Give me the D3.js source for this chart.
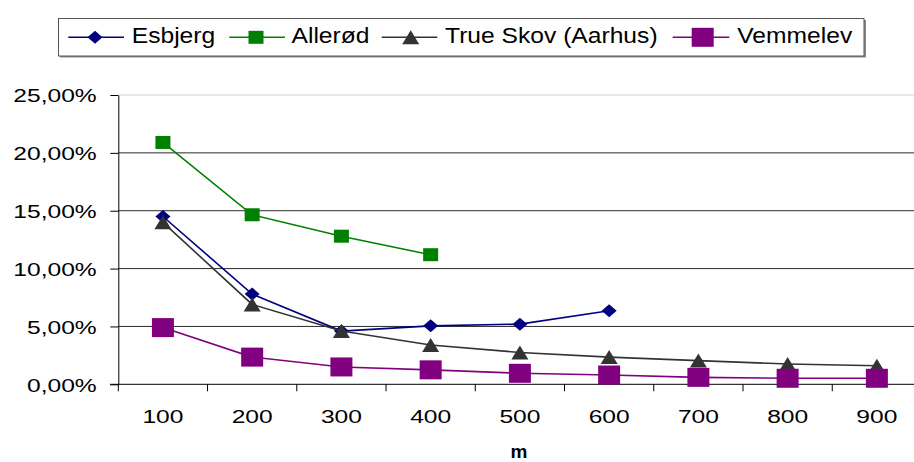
<!DOCTYPE html>
<html>
<head>
<meta charset="utf-8">
<script src="https://cdn.jsdelivr.net/npm/d3@7/dist/d3.min.js"></script>
<style>
  html, body { margin: 0; padding: 0; background: #fff; }
  svg { display: block; font-family: "Liberation Sans", Arial, sans-serif; }
</style>
</head>
<body>
<svg id="chart" width="914" height="462"></svg>
<script>
// Distance classes (m)
const categories = ["100", "200", "300", "400", "500", "600", "700", "800", "900"];
// Share per distance class, in percent
const esbjerg   = [14.5, 7.8, 4.6, 5.05, 5.2, 6.35];
const allerod   = [20.9, 14.65, 12.8, 11.2];
const trueSkov  = [14.0, 6.9, 4.6, 3.4, 2.75, 2.35, 2.05, 1.75, 1.6];
const vemmelev  = [4.9, 2.35, 1.5, 1.25, 0.95, 0.8, 0.6, 0.52, 0.52];
const seriesNames = ["Esbjerg", "Allerød", "True Skov (Aarhus)", "Vemmelev"];
const yTicks = [0, 5, 10, 15, 20, 25];
const xTitle = "m";

const seriesValues = [esbjerg, allerod, trueSkov, vemmelev];
const seriesStyle = [
  { color: "#000080", shape: "diamond",  w: 15, h: 13 },
  { color: "#008000", shape: "square",   w: 15, h: 13 },
  { color: "#333333", shape: "triangle", w: 17, h: 14 },
  { color: "#800080", shape: "square",   w: 22, h: 19 }
];

const svg = d3.select("#chart");

const plotLeft = 118.3, plotRight = 921.5, plotTop = 95, plotBottom = 384.3;
const x = d3.scaleBand().domain(categories).range([plotLeft, plotRight]).padding(0);
const y = d3.scaleLinear().domain([0, 25]).range([plotBottom, plotTop]);
const cx = c => x(c) + x.bandwidth() / 2;

const locale = d3.formatLocale({ decimal: ",", thousands: ".", grouping: [3], currency: ["", " kr."] });
const pct = locale.format(".2%");

// Horizontal gridlines
svg.append("g").selectAll("line").data(yTicks.filter(d => d > 0)).join("line")
  .attr("x1", plotLeft).attr("x2", 914)
  .attr("y1", d => y(d)).attr("y2", d => y(d))
  .attr("stroke", d => d === 25 ? "#cfcfcf" : "#2a2a2a")
  .attr("stroke-width", 1);

// Y axis
const yAxis = svg.append("g")
  .attr("transform", `translate(${plotLeft},0)`)
  .call(d3.axisLeft(y).tickValues(yTicks).tickSize(8).tickSizeOuter(0).tickFormat(d => pct(d / 100)));
yAxis.select(".domain").attr("stroke", "#000");
yAxis.selectAll(".tick line").attr("stroke", "#000");
yAxis.selectAll(".tick text")
  .attr("x", 0).attr("dy", null).attr("y", 0)
  .attr("text-anchor", "end")
  .attr("fill", "#000")
  .style("font-size", "18.5px")
  .style("font-family", "'Liberation Sans', Arial, sans-serif")
  .attr("transform", "translate(-21.6,6.8) scale(1.33,1)");

// X axis with ticks on the category boundaries
const xAxis = svg.append("g");
xAxis.append("line")
  .attr("x1", 110).attr("x2", 914)
  .attr("y1", plotBottom).attr("y2", plotBottom)
  .attr("stroke", "#000");
const boundaries = categories.map(c => x(c)).concat([plotRight]);
xAxis.selectAll("line.tick").data(boundaries).join("line")
  .attr("class", "tick")
  .attr("x1", d => d).attr("x2", d => d)
  .attr("y1", plotBottom).attr("y2", plotBottom + 7)
  .attr("stroke", "#000");
xAxis.selectAll("text").data(categories).join("text")
  .attr("text-anchor", "middle")
  .attr("transform", d => `translate(${cx(d)},423.3) scale(1.33,1)`)
  .style("font-size", "18.5px")
  .attr("fill", "#000")
  .text(d => d);

svg.append("text")
  .attr("x", 519).attr("y", 458)
  .attr("text-anchor", "middle")
  .style("font-size", "19px").style("font-weight", "bold")
  .text(xTitle);

// Marker shapes
function drawMarker(g, st, px, py) {
  const w = st.w, h = st.h;
  if (st.shape === "square") {
    g.append("rect").attr("x", px - w / 2).attr("y", py - h / 2)
      .attr("width", w).attr("height", h).attr("fill", st.color);
  } else if (st.shape === "diamond") {
    g.append("path")
      .attr("d", `M${px},${py - h / 2}L${px + w / 2},${py}L${px},${py + h / 2}L${px - w / 2},${py}Z`)
      .attr("fill", st.color);
  } else {
    g.append("path")
      .attr("d", `M${px},${py - h / 2}L${px + w / 2},${py + h / 2}L${px - w / 2},${py + h / 2}Z`)
      .attr("fill", st.color);
  }
}

const line = d3.line().x((d, i) => cx(categories[i])).y(d => y(d));

seriesValues.forEach((vals, si) => {
  const st = seriesStyle[si];
  const g = svg.append("g");
  g.append("path").datum(vals)
    .attr("d", line)
    .attr("fill", "none")
    .attr("stroke", st.color)
    .attr("stroke-width", 1.6);
  vals.forEach((v, i) => drawMarker(g, st, cx(categories[i]), y(v)));
});

// Legend
const lg = svg.append("g");
lg.append("rect").attr("x", 60).attr("y", 20).attr("width", 806).attr("height", 37.5).attr("fill", "#8a8a8a");
lg.append("rect").attr("x", 58.5).attr("y", 18.5).attr("width", 805.5).attr("height", 37.5)
  .attr("fill", "#fff").attr("stroke", "#555").attr("stroke-width", 1);

const legendItems = [
  { x1: 68.3, x2: 124, mx: 95, tx: 131.7 },
  { x1: 229.3, x2: 285, mx: 256, tx: 291.5 },
  { x1: 381.7, x2: 437.3, mx: 410.7, tx: 445 },
  { x1: 672.7, x2: 729.3, mx: 702.7, tx: 737.3 }
];
const ly = 37.3;
legendItems.forEach((it, si) => {
  const st = seriesStyle[si];
  lg.append("line").attr("x1", it.x1).attr("x2", it.x2).attr("y1", ly).attr("y2", ly)
    .attr("stroke", st.color).attr("stroke-width", 1.6);
  drawMarker(lg, st, it.mx, ly);
  lg.append("text")
    .attr("transform", `translate(${it.tx},43.3) scale(1.12,1)`)
    .style("font-size", "22px")
    .attr("fill", "#000")
    .text(seriesNames[si]);
});
</script>
</body>
</html>
